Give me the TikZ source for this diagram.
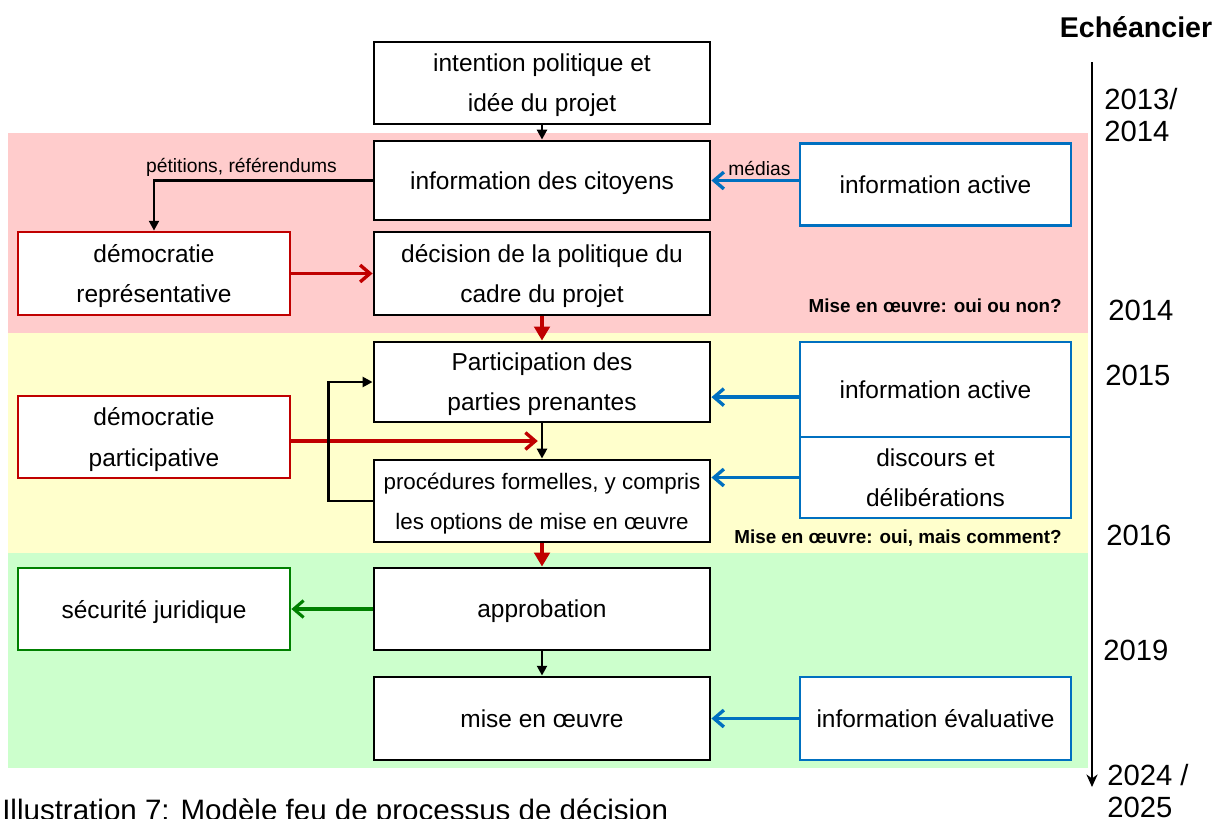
\documentclass[tikz,border=0pt]{standalone}
\usepackage{fontspec}
\setmainfont{Liberation Sans}
\usepackage{tikz}
\usetikzlibrary{arrows.meta,calc}
\definecolor{red3}{RGB}{192,0,0}
\definecolor{blue3}{RGB}{0,112,192}
\definecolor{green3}{RGB}{0,128,0}
\definecolor{pinkband}{RGB}{255,204,204}
\definecolor{yellowband}{RGB}{255,255,204}
\definecolor{greenband}{RGB}{204,255,204}
\newcommand{\boxfont}{\fontsize{17.4}{28.5}\selectfont}
\newcommand{\smallboxfont}{\fontsize{15.9}{28.5}\selectfont}
\newcommand{\lblfont}{\fontsize{13.7}{16}\selectfont}
\newcommand{\notefont}{\fontsize{13.4}{16}\selectfont\bfseries}
\newcommand{\yearfont}{\fontsize{20.8}{22.8}\selectfont}

\begin{document}
\begin{tikzpicture}[x=0.025cm,y=-0.025cm,
    box/.style={draw,line width=2pt,fill=white,align=center,font=\boxfont,text depth=-5pt,inner sep=0pt,minimum width=8.4cm,minimum height=2.05cm},
    redbox/.style={box,draw=red3,line width=1.9pt,minimum width=6.8cm},
    greenbox/.style={box,draw=green3,line width=1.9pt,minimum width=6.8cm},
    bluebox/.style={box,draw=blue3,line width=1.9pt,minimum width=6.775cm},
    blkarr/.style={-{Triangle[length=7pt,width=7pt]},line width=1.8pt},
    redflow/.style={-{Triangle[length=10pt,width=11pt]},red3,line width=2.6pt},
    redarr/.style={-{Straight Barb[length=7pt,width=12pt]},red3,line width=2.4pt},
    bluearr/.style={-{Straight Barb[length=7pt,width=12pt]},blue3,line width=2.4pt},
    greenarr/.style={-{Straight Barb[length=7pt,width=12pt]},green3,line width=2.2pt},
    lbl/.style={font=\lblfont,text=black,inner sep=2pt},
    note/.style={font=\notefont,anchor=east,inner sep=0pt},
    year/.style={font=\yearfont,anchor=west,align=left,inner sep=0pt}]
    \useasboundingbox (0,0) rectangle (1225,818);

    \fill[pinkband] (8,133) rectangle (1088,333);
    \fill[yellowband] (8,333) rectangle (1088,553);
    \fill[greenband] (8,553) rectangle (1088,768);

    \node[box] (intent) at (542,83) {intention politique et\\idée du projet};
    \node[box,minimum height=1.975cm] (info) at (542,180.5) {information des citoyens};
    \node[box,minimum height=2.075cm] (decision) at (542,273.5) {décision de la politique du\\cadre du projet};
    \node[box,minimum height=2cm] (particip) at (542,382) {Participation des\\parties prenantes};
    \node[box,font=\smallboxfont] (proced) at (542,501) {procédures formelles, y compris\\les options de mise en œuvre};
    \node[box] (approb) at (542,609) {approbation};
    \node[box,minimum height=2.075cm] (mise) at (542,718.5) {mise en œuvre};

    \node[redbox,minimum height=2.075cm] (reprdem) at (154,273.5) {démocratie\\représentative};
    \node[redbox] (partdem) at (154,437) {démocratie\\participative};
    \node[greenbox] (secur) at (154,609) {sécurité juridique};

    \node[bluebox] (infoact) at (935.5,184.5) {information active};
    \node[bluebox,minimum height=2.375cm] (infoact2) at (935.5,389.5) {information active};
    \node[bluebox,minimum height=2.025cm] (discours) at (935.5,477.5) {discours et\\délibérations};
    \node[bluebox,minimum height=2.075cm] (infoeval) at (935.5,718.5) {information évaluative};

    \draw[blkarr] (intent) -- (info);
    \draw[blkarr] (info.west) -| (reprdem.north) node[lbl,above,pos=0.3] {pétitions, référendums};
    \draw[redarr] (reprdem) -- (decision);
    \draw[bluearr] (infoact.west |- info.east) -- (info.east) node[lbl,above,pos=0.45] {médias};
    \draw[redflow] (decision) -- (particip);
    \draw[blkarr] (particip) -- (proced);

    \coordinate (pj) at ($(particip.south)!0.5!(proced.north)$);
    \draw[redarr,shorten >=3pt] (partdem.east |- pj) -- (pj);
    \draw[blkarr] (proced.west) -- ++(-44,0) |- (particip.west);
    \draw[bluearr] ([yshift=-0.19cm]infoact2.west) -- ([yshift=-0.19cm]infoact2.west -| particip.east);
    \draw[bluearr] (discours.west) -- (discours.west -| proced.east);
    \draw[redflow] (proced) -- (approb);
    \draw[greenarr] (approb) -- (secur);
    \draw[blkarr] (approb) -- (mise);
    \draw[bluearr] (infoeval) -- (mise);

    \node[note] (note1) at (1062,306) {Mise en œuvre: oui ou non?};
    \node[note] (note2) at (1062,538) {Mise en œuvre: oui, mais comment?};

    \coordinate (t0) at (1092,62);
    \coordinate (t1) at (1092,787);
    \draw[-{Stealth[length=9pt,width=8pt]},line width=1pt] (t0) -- (t1);
    \node[font=\fontsize{20.3}{24}\selectfont\bfseries] (echeance) at (1136,27) {Echéancier};
    \node[year] (y1) at (1104,115) {2013/\\2014};
    \node[year] (y2) at (1108,310) {2014};
    \node[year] (y3) at (1105,375) {2015};
    \node[year] (y4) at (1106,535) {2016};
    \node[year] (y5) at (1103,650) {2019};
    \node[year] (y6) at (1107,791) {2024 /\\2025};

    \node[anchor=base west,inner sep=0pt,font=\fontsize{21}{24}\selectfont] (caption) at (2,820) {Illustration 7: Modèle feu de processus de décision};
\end{tikzpicture}
\end{document}
